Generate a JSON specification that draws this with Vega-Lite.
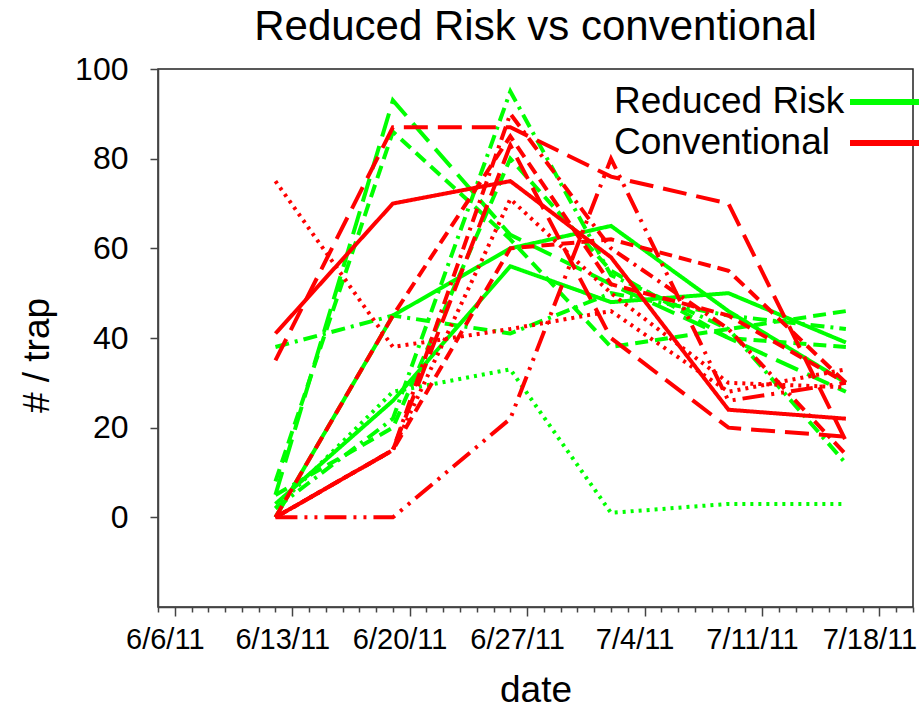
{
  "$schema": "https://vega.github.io/schema/vega-lite/v6.json",
  "width": 755,
  "height": 538,
  "autosize": {"type": "none"},
  "padding": {"left": 158, "top": 69, "right": 6, "bottom": 102},
  "background": "white",
  "title": {
    "text": "Reduced Risk vs conventional",
    "font": "Liberation Sans",
    "fontSize": 42,
    "fontWeight": "normal",
    "color": "black",
    "anchor": "middle",
    "frame": "group",
    "offset": 4
  },
  "config": {
    "view": {"stroke": "#222", "strokeWidth": 1.5},
    "axis": {"grid": false, "labelFont": "Liberation Sans", "titleFont": "Liberation Sans", "labelColor": "black", "titleColor": "black", "titleFontWeight": "normal", "domainColor": "#444", "tickColor": "#444", "domainWidth": 1.5, "tickWidth": 1.5}
  },
  "data": {
    "values": [
      {"s": "G1", "g": "Reduced Risk", "st": "solid", "d": "2011-06-12T00:00:00", "v": 0},
      {"s": "G1", "g": "Reduced Risk", "st": "solid", "d": "2011-06-19T00:00:00", "v": 45},
      {"s": "G1", "g": "Reduced Risk", "st": "solid", "d": "2011-06-26T00:00:00", "v": 60},
      {"s": "G1", "g": "Reduced Risk", "st": "solid", "d": "2011-07-02T00:00:00", "v": 65},
      {"s": "G1", "g": "Reduced Risk", "st": "solid", "d": "2011-07-09T00:00:00", "v": 46},
      {"s": "G1", "g": "Reduced Risk", "st": "solid", "d": "2011-07-16T00:00:00", "v": 30},
      {"s": "G2", "g": "Reduced Risk", "st": "solid", "d": "2011-06-12T00:00:00", "v": 3},
      {"s": "G2", "g": "Reduced Risk", "st": "solid", "d": "2011-06-19T00:00:00", "v": 26},
      {"s": "G2", "g": "Reduced Risk", "st": "solid", "d": "2011-06-26T00:00:00", "v": 56},
      {"s": "G2", "g": "Reduced Risk", "st": "solid", "d": "2011-07-02T00:00:00", "v": 48},
      {"s": "G2", "g": "Reduced Risk", "st": "solid", "d": "2011-07-09T00:00:00", "v": 50},
      {"s": "G2", "g": "Reduced Risk", "st": "solid", "d": "2011-07-16T00:00:00", "v": 39},
      {"s": "G3", "g": "Reduced Risk", "st": "longdash", "d": "2011-06-12T00:00:00", "v": 5},
      {"s": "G3", "g": "Reduced Risk", "st": "longdash", "d": "2011-06-19T00:00:00", "v": 93},
      {"s": "G3", "g": "Reduced Risk", "st": "longdash", "d": "2011-06-26T00:00:00", "v": 63},
      {"s": "G3", "g": "Reduced Risk", "st": "longdash", "d": "2011-07-02T00:00:00", "v": 52},
      {"s": "G3", "g": "Reduced Risk", "st": "longdash", "d": "2011-07-09T00:00:00", "v": 40},
      {"s": "G3", "g": "Reduced Risk", "st": "longdash", "d": "2011-07-16T00:00:00", "v": 28},
      {"s": "G4", "g": "Reduced Risk", "st": "dash", "d": "2011-06-12T00:00:00", "v": 8},
      {"s": "G4", "g": "Reduced Risk", "st": "dash", "d": "2011-06-19T00:00:00", "v": 86},
      {"s": "G4", "g": "Reduced Risk", "st": "dash", "d": "2011-06-26T00:00:00", "v": 62},
      {"s": "G4", "g": "Reduced Risk", "st": "dash", "d": "2011-07-02T00:00:00", "v": 38},
      {"s": "G4", "g": "Reduced Risk", "st": "dash", "d": "2011-07-09T00:00:00", "v": 42},
      {"s": "G4", "g": "Reduced Risk", "st": "dash", "d": "2011-07-16T00:00:00", "v": 46},
      {"s": "G5", "g": "Reduced Risk", "st": "dashdot", "d": "2011-06-12T00:00:00", "v": 2},
      {"s": "G5", "g": "Reduced Risk", "st": "dashdot", "d": "2011-06-19T00:00:00", "v": 22},
      {"s": "G5", "g": "Reduced Risk", "st": "dashdot", "d": "2011-06-26T00:00:00", "v": 95},
      {"s": "G5", "g": "Reduced Risk", "st": "dashdot", "d": "2011-07-02T00:00:00", "v": 54},
      {"s": "G5", "g": "Reduced Risk", "st": "dashdot", "d": "2011-07-09T00:00:00", "v": 42},
      {"s": "G5", "g": "Reduced Risk", "st": "dashdot", "d": "2011-07-16T00:00:00", "v": 12},
      {"s": "G6", "g": "Reduced Risk", "st": "dashdot", "d": "2011-06-12T00:00:00", "v": 38},
      {"s": "G6", "g": "Reduced Risk", "st": "dashdot", "d": "2011-06-19T00:00:00", "v": 45},
      {"s": "G6", "g": "Reduced Risk", "st": "dashdot", "d": "2011-06-26T00:00:00", "v": 41},
      {"s": "G6", "g": "Reduced Risk", "st": "dashdot", "d": "2011-07-02T00:00:00", "v": 50},
      {"s": "G6", "g": "Reduced Risk", "st": "dashdot", "d": "2011-07-09T00:00:00", "v": 45},
      {"s": "G6", "g": "Reduced Risk", "st": "dashdot", "d": "2011-07-16T00:00:00", "v": 42},
      {"s": "G7", "g": "Reduced Risk", "st": "dot", "d": "2011-06-12T00:00:00", "v": 2},
      {"s": "G7", "g": "Reduced Risk", "st": "dot", "d": "2011-06-19T00:00:00", "v": 28},
      {"s": "G7", "g": "Reduced Risk", "st": "dot", "d": "2011-06-26T00:00:00", "v": 33},
      {"s": "G7", "g": "Reduced Risk", "st": "dot", "d": "2011-07-02T00:00:00", "v": 1},
      {"s": "G7", "g": "Reduced Risk", "st": "dot", "d": "2011-07-09T00:00:00", "v": 3},
      {"s": "G7", "g": "Reduced Risk", "st": "dot", "d": "2011-07-16T00:00:00", "v": 3},
      {"s": "G8", "g": "Reduced Risk", "st": "dash", "d": "2011-06-12T00:00:00", "v": 5},
      {"s": "G8", "g": "Reduced Risk", "st": "dash", "d": "2011-06-19T00:00:00", "v": 20},
      {"s": "G8", "g": "Reduced Risk", "st": "dash", "d": "2011-06-26T00:00:00", "v": 80},
      {"s": "G8", "g": "Reduced Risk", "st": "dash", "d": "2011-07-02T00:00:00", "v": 55},
      {"s": "G8", "g": "Reduced Risk", "st": "dash", "d": "2011-07-09T00:00:00", "v": 40},
      {"s": "G8", "g": "Reduced Risk", "st": "dash", "d": "2011-07-16T00:00:00", "v": 38},
      {"s": "R1", "g": "Conventional", "st": "solid", "d": "2011-06-12T00:00:00", "v": 41},
      {"s": "R1", "g": "Conventional", "st": "solid", "d": "2011-06-19T00:00:00", "v": 70},
      {"s": "R1", "g": "Conventional", "st": "solid", "d": "2011-06-26T00:00:00", "v": 75},
      {"s": "R1", "g": "Conventional", "st": "solid", "d": "2011-07-02T00:00:00", "v": 58},
      {"s": "R1", "g": "Conventional", "st": "solid", "d": "2011-07-09T00:00:00", "v": 24},
      {"s": "R1", "g": "Conventional", "st": "solid", "d": "2011-07-16T00:00:00", "v": 22},
      {"s": "R2", "g": "Conventional", "st": "longdash", "d": "2011-06-12T00:00:00", "v": 35},
      {"s": "R2", "g": "Conventional", "st": "longdash", "d": "2011-06-19T00:00:00", "v": 87},
      {"s": "R2", "g": "Conventional", "st": "longdash", "d": "2011-06-26T00:00:00", "v": 87},
      {"s": "R2", "g": "Conventional", "st": "longdash", "d": "2011-07-02T00:00:00", "v": 76},
      {"s": "R2", "g": "Conventional", "st": "longdash", "d": "2011-07-09T00:00:00", "v": 70},
      {"s": "R2", "g": "Conventional", "st": "longdash", "d": "2011-07-16T00:00:00", "v": 17},
      {"s": "R3", "g": "Conventional", "st": "dot", "d": "2011-06-12T00:00:00", "v": 75},
      {"s": "R3", "g": "Conventional", "st": "dot", "d": "2011-06-19T00:00:00", "v": 38},
      {"s": "R3", "g": "Conventional", "st": "dot", "d": "2011-06-26T00:00:00", "v": 42},
      {"s": "R3", "g": "Conventional", "st": "dot", "d": "2011-07-02T00:00:00", "v": 46},
      {"s": "R3", "g": "Conventional", "st": "dot", "d": "2011-07-09T00:00:00", "v": 28},
      {"s": "R3", "g": "Conventional", "st": "dot", "d": "2011-07-16T00:00:00", "v": 33},
      {"s": "R4", "g": "Conventional", "st": "longdashdotdot", "d": "2011-06-12T00:00:00", "v": 0},
      {"s": "R4", "g": "Conventional", "st": "longdashdotdot", "d": "2011-06-19T00:00:00", "v": 0},
      {"s": "R4", "g": "Conventional", "st": "longdashdotdot", "d": "2011-06-26T00:00:00", "v": 22},
      {"s": "R4", "g": "Conventional", "st": "longdashdotdot", "d": "2011-07-02T00:00:00", "v": 80},
      {"s": "R4", "g": "Conventional", "st": "longdashdotdot", "d": "2011-07-09T00:00:00", "v": 26},
      {"s": "R4", "g": "Conventional", "st": "longdashdotdot", "d": "2011-07-16T00:00:00", "v": 30},
      {"s": "R5", "g": "Conventional", "st": "dash", "d": "2011-06-12T00:00:00", "v": 0},
      {"s": "R5", "g": "Conventional", "st": "dash", "d": "2011-06-19T00:00:00", "v": 45},
      {"s": "R5", "g": "Conventional", "st": "dash", "d": "2011-06-26T00:00:00", "v": 85},
      {"s": "R5", "g": "Conventional", "st": "dash", "d": "2011-07-02T00:00:00", "v": 52},
      {"s": "R5", "g": "Conventional", "st": "dash", "d": "2011-07-09T00:00:00", "v": 45},
      {"s": "R5", "g": "Conventional", "st": "dash", "d": "2011-07-16T00:00:00", "v": 30},
      {"s": "R6", "g": "Conventional", "st": "dash", "d": "2011-06-12T00:00:00", "v": 0},
      {"s": "R6", "g": "Conventional", "st": "dash", "d": "2011-06-19T00:00:00", "v": 15},
      {"s": "R6", "g": "Conventional", "st": "dash", "d": "2011-06-26T00:00:00", "v": 60},
      {"s": "R6", "g": "Conventional", "st": "dash", "d": "2011-07-02T00:00:00", "v": 62},
      {"s": "R6", "g": "Conventional", "st": "dash", "d": "2011-07-09T00:00:00", "v": 55},
      {"s": "R6", "g": "Conventional", "st": "dash", "d": "2011-07-16T00:00:00", "v": 30},
      {"s": "R7", "g": "Conventional", "st": "dashdot", "d": "2011-06-12T00:00:00", "v": 0},
      {"s": "R7", "g": "Conventional", "st": "dashdot", "d": "2011-06-19T00:00:00", "v": 15},
      {"s": "R7", "g": "Conventional", "st": "dashdot", "d": "2011-06-26T00:00:00", "v": 90},
      {"s": "R7", "g": "Conventional", "st": "dashdot", "d": "2011-07-02T00:00:00", "v": 60},
      {"s": "R7", "g": "Conventional", "st": "dashdot", "d": "2011-07-09T00:00:00", "v": 42},
      {"s": "R7", "g": "Conventional", "st": "dashdot", "d": "2011-07-16T00:00:00", "v": 14},
      {"s": "R8", "g": "Conventional", "st": "dot", "d": "2011-06-12T00:00:00", "v": 0},
      {"s": "R8", "g": "Conventional", "st": "dot", "d": "2011-06-19T00:00:00", "v": 15},
      {"s": "R8", "g": "Conventional", "st": "dot", "d": "2011-06-26T00:00:00", "v": 71},
      {"s": "R8", "g": "Conventional", "st": "dot", "d": "2011-07-02T00:00:00", "v": 50},
      {"s": "R8", "g": "Conventional", "st": "dot", "d": "2011-07-09T00:00:00", "v": 30},
      {"s": "R8", "g": "Conventional", "st": "dot", "d": "2011-07-16T00:00:00", "v": 29},
      {"s": "R9", "g": "Conventional", "st": "longdash", "d": "2011-06-12T00:00:00", "v": 0},
      {"s": "R9", "g": "Conventional", "st": "longdash", "d": "2011-06-19T00:00:00", "v": 15},
      {"s": "R9", "g": "Conventional", "st": "longdash", "d": "2011-06-26T00:00:00", "v": 83},
      {"s": "R9", "g": "Conventional", "st": "longdash", "d": "2011-07-02T00:00:00", "v": 40},
      {"s": "R9", "g": "Conventional", "st": "longdash", "d": "2011-07-09T00:00:00", "v": 20},
      {"s": "R9", "g": "Conventional", "st": "longdash", "d": "2011-07-16T00:00:00", "v": 18}
    ]
  },
  "mark": {"type": "line", "strokeWidth": 4, "clip": true},
  "encoding": {
    "x": {
      "field": "d",
      "type": "temporal",
      "scale": {"domain": [{"year": 2011, "month": 6, "date": 5}, {"year": 2011, "month": 7, "date": 20}]},
      "axis": {
        "title": "date",
        "titleFontSize": 37,
        "titlePadding": 18,
        "tickCount": {"interval": "day", "step": 1},
        "labelExpr": "day(datum.value) == 1 ? timeFormat(datum.value, '%-m/%-d/%y') : ''",
        "labelOverlap": false,
        "labelFontSize": 29,
        "labelPadding": 9,
        "labelOffset": -10,
        "labelFlush": false,
        "tickSize": {"condition": {"test": "day(datum.value) == 1", "value": 9}, "value": 5}
      }
    },
    "y": {
      "field": "v",
      "type": "quantitative",
      "scale": {"domain": [-20, 100], "nice": false},
      "axis": {
        "title": "# / trap",
        "titleFontSize": 37,
        "titlePadding": 18,
        "titleY": 286,
        "values": [0, 20, 40, 60, 80, 100],
        "labelFontSize": 32,
        "tickSize": 8,
        "labelPadding": 22
      }
    },
    "color": {
      "field": "g",
      "type": "nominal",
      "scale": {"domain": ["Reduced Risk", "Conventional"], "range": ["#00FF00", "#FF0000"]},
      "legend": {
        "title": null,
        "orient": "none",
        "legendX": 457,
        "legendY": 10,
        "symbolType": "M-1.75,0H1.75",
        "symbolSize": 1600,
        "symbolStrokeWidth": 6,
        "symbolOffset": 247,
        "labelOffset": -294,
        "labelFont": "Liberation Sans",
        "labelFontSize": 37,
        "labelColor": "black",
        "labelLimit": 400,
        "rowPadding": 0
      }
    },
    "strokeDash": {
      "field": "st",
      "type": "nominal",
      "scale": {
        "domain": ["solid", "dash", "longdash", "dot", "dashdot", "longdashdotdot"],
        "range": [[1, 0], [13, 7], [24, 10], [3, 5], [14, 6, 3, 6], [22, 7, 3, 7, 3, 7]]
      },
      "legend": null
    },
    "detail": {"field": "s"}
  }
}
